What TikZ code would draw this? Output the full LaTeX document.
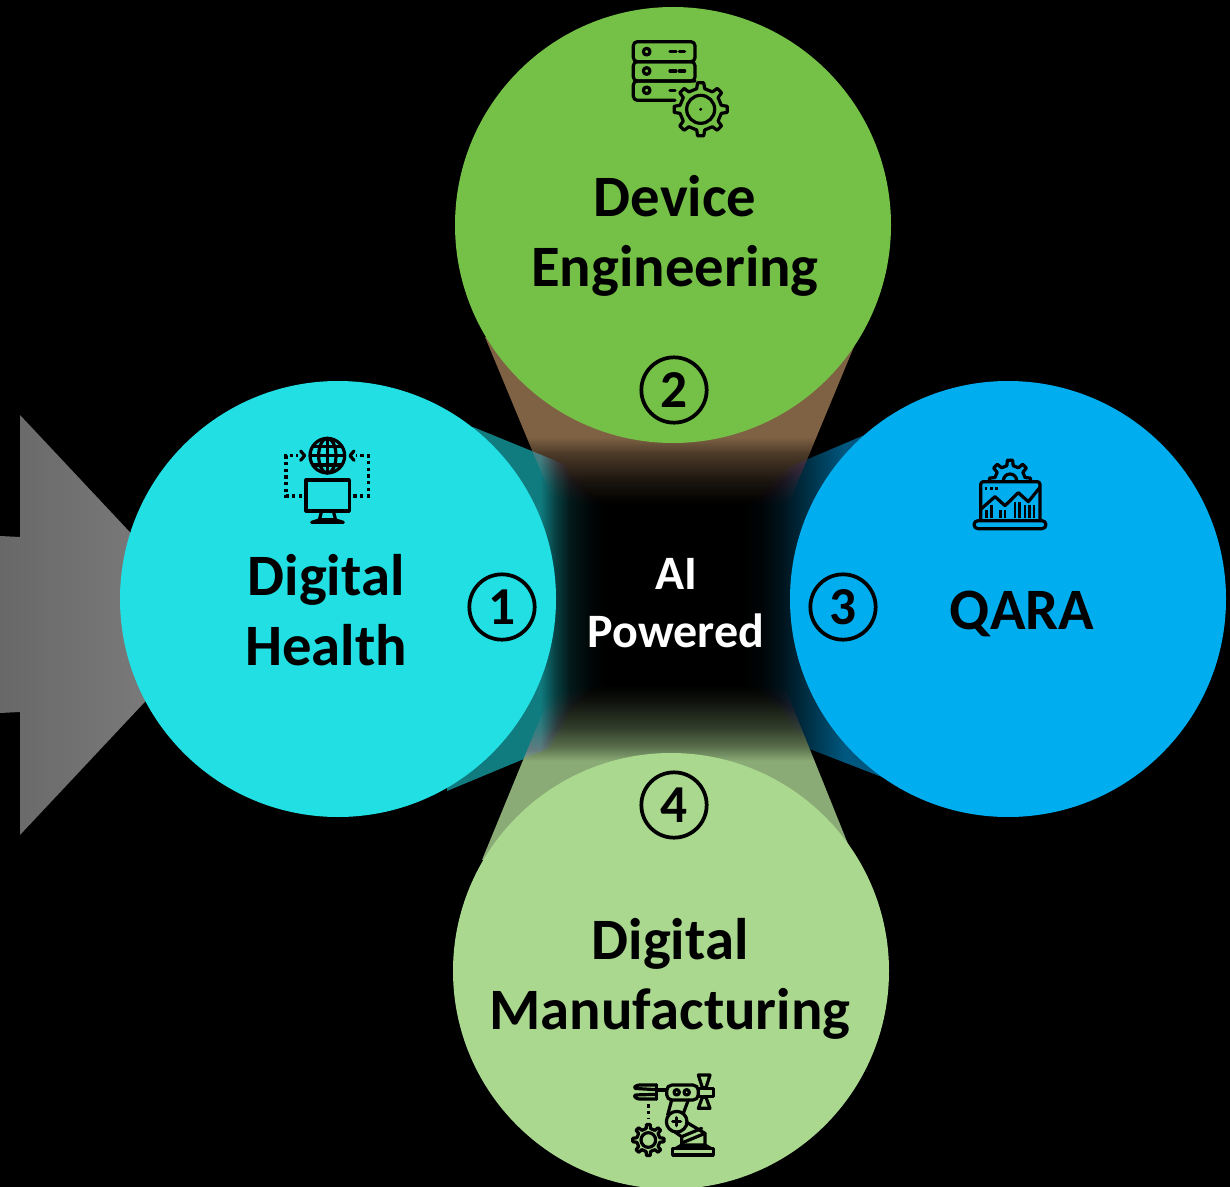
\documentclass[tikz,border=0pt]{standalone}
\usepackage{fontspec}
\setmainfont{Carlito}
\usetikzlibrary{calc}
\definecolor{cCyan}{RGB}{34,223,227}
\definecolor{cGreen}{RGB}{117,192,71}
\definecolor{cBlue}{RGB}{0,174,240}
\definecolor{cLight}{RGB}{170,216,143}
\definecolor{fBrown}{RGB}{127,98,68}
\definecolor{fTeal}{RGB}{16,124,128}
\definecolor{fNavy}{RGB}{0,88,128}
\definecolor{fOlive}{RGB}{138,171,118}
\definecolor{aDark}{RGB}{104,104,104}
\definecolor{aLight}{RGB}{130,130,130}
\colorlet{brownA}{fBrown!60!black}
\colorlet{brownB}{fBrown!20!black}
\colorlet{oliveA}{fOlive!65!black}
\colorlet{oliveB}{fOlive!35!black}
\colorlet{oliveC}{fOlive!10!black}
\colorlet{tealA}{fTeal!50!black}
\colorlet{tealB}{fTeal!20!black}
\colorlet{tealC}{fTeal!5!black}
\colorlet{navyA}{fNavy!5!black}
\colorlet{navyB}{fNavy!20!black}
\colorlet{navyC}{fNavy!45!black}
\colorlet{navyD}{fNavy!75!black}
\pgfdeclareverticalshading{fadeBrown}{100bp}{color(0bp)=(black); color(29.3bp)=(black); color(35.5bp)=(brownB); color(43.2bp)=(brownA); color(47.7bp)=(fBrown); color(100bp)=(fBrown)}
\pgfdeclareverticalshading{fadeOlive}{100bp}{color(0bp)=(fOlive); color(52.5bp)=(fOlive); color(56.4bp)=(oliveA); color(61.9bp)=(oliveB); color(69.4bp)=(oliveC); color(73.6bp)=(black); color(100bp)=(black)}
\pgfdeclarehorizontalshading{fadeTeal}{100bp}{color(0bp)=(fTeal); color(52.7bp)=(fTeal); color(57.4bp)=(tealA); color(61.6bp)=(tealB); color(67.6bp)=(tealC); color(72bp)=(black); color(100bp)=(black)}
\pgfdeclarehorizontalshading{fadeNavy}{100bp}{color(0bp)=(black); color(28.3bp)=(black); color(33.2bp)=(navyA); color(39.8bp)=(navyB); color(46.4bp)=(navyC); color(54.6bp)=(navyD); color(61.2bp)=(fNavy); color(100bp)=(fNavy)}
\tikzset{
  bigcirc/.style={circle,minimum size=327pt,inner sep=0pt,draw=none},
  numcirc/.style={circle,draw=black,line width=2.8pt,minimum size=49pt,inner sep=0pt,font=\fontsize{40}{40}\selectfont\bfseries},
  label/.style={text=black,align=center,font=\fontsize{44}{52.5}\selectfont\bfseries},
  funnel/.style={blend mode=lighten},
  icon/.style={draw=black,line width=2.4pt,line join=round,line cap=round,fill=none},
  thin icon/.style={draw=black,line width=2.1pt,line join=round,line cap=butt,fill=none},
  dots/.style={draw=black,line width=2.4pt,dash pattern=on 2.4pt off 2.6pt}
}
\newcommand{\gearic}[7]{% cx cy rin rout teeth halfangle tipfactor
  \begin{scope}[shift={(#1,#2)}]
  \foreach \i in {1,...,#5}{
    \pgfmathsetmacro\ga{360/#5*\i}
    \pgfmathsetmacro\gb{\ga-#6}
    \pgfmathsetmacro\gc{\ga-#6*#7}
    \pgfmathsetmacro\gd{\ga+#6*#7}
    \pgfmathsetmacro\ge{\ga+#6}
    \pgfmathsetmacro\gf{\ga+360/#5-#6}
    \draw[icon] (\gb:#3) -- (\gc:#4) -- (\gd:#4) -- (\ge:#3) -- (\gf:#3);
  }
  \end{scope}
}
\begin{document}
\begin{tikzpicture}[x=0.75pt,y=-0.75pt]
\useasboundingbox (0,0) rectangle (1230,1187);
\fill[black] (0,0) rectangle (1230,1187);
% grey arrow
\shade[left color=aDark,right color=aLight] (0,536) -- (20,537) -- (20,415) -- (217,625) -- (20,835) -- (20,712) -- (0,713) -- cycle;
% funnels
\path[funnel,shading=fadeBrown] (485,337) -- (858,337) -- (782,520) -- (561,520) -- cycle;
\path[funnel,shading=fadeTeal] (473,427) -- (615,485) -- (615,721) -- (447,791) -- cycle;
\path[funnel,shading=fadeNavy] (867,434) -- (735,490) -- (735,720) -- (887,779) -- cycle;
\path[funnel,shading=fadeOlive] (482,860) -- (556,680) -- (782,680) -- (848,844) -- cycle;
% main circles
\node[bigcirc,fill=cCyan] (health) at (338,599) {};
\node[bigcirc,fill=cGreen] (device) at (673,225) {};
\node[bigcirc,fill=cBlue] (qara) at (1008,599) {};
\node[bigcirc,fill=cLight] (manuf) at (671,971) {};
% numbers
\node[numcirc] (n1) at (502,607) {1};
\node[numcirc] (n2) at (674,390) {2};
\node[numcirc] (n3) at (843,607) {3};
\node[numcirc] (n4) at (674,805) {4};
% labels
\node[label] (tdevice) at (675,236) {Device\\Engineering};
\node[label] (thealth) at (326,610) {Digital\\Health};
\node[label] (tqara) at (1022,614) {QARA};
\node[label] (tmanuf) at (670,979) {Digital\\Manufacturing};
\node[align=center,text=white,font=\fontsize{36}{43.5}\selectfont\bfseries] (tai) at (676,603) {AI\\Powered};
% server icon
\begin{scope}[shift={(610,20)},x=0.25pt,y=-0.25pt]
  \draw[icon,rounded corners=3pt] (70,65) rectangle (255,125);
  \draw[icon,rounded corners=3pt] (70,125) rectangle (255,183);
  \draw[icon,rounded corners=3pt] (195,241) -- (70,241) -- (70,183) -- (255,183);
  \foreach \yy in {95,153,211}{
    \draw[icon] (110,\yy) circle (10);
  }
  \foreach \yy in {95,153}{
    \draw[icon] (180,\yy) -- (198,\yy);
    \draw[icon] (208,\yy) -- (224,\yy);
  }
  \draw[icon] (180,211) -- (195,211);
  \gearic{272}{268}{63}{80}{8}{11}{0.6}
  \draw[icon] (272,268) circle (42);
  \fill[black] (272,268) circle (5);
\end{scope}
% globe / monitor icon
\begin{scope}[shift={(270,425)},x=0.25pt,y=-0.25pt]
  \draw[icon] (172,92) circle (52);
  \draw[icon] (172,92) ellipse (26 and 52);
  \draw[icon] (172,40) -- (172,144);
  \draw[icon] (122,92) -- (222,92);
  \draw[icon] (130,64) -- (214,64);
  \draw[icon] (130,120) -- (214,120);
  \draw[icon] (108,165) rectangle (238,258);
  \draw[icon] (155,258) -- (148,285) -- (125,292) -- (220,292) -- (197,285) -- (190,258);
  \draw[icon] (148,285) -- (197,285);
  \draw[dots] (96,213) -- (48,213) -- (48,92) -- (85,92);
  \draw[dots] (250,213) -- (295,213) -- (295,92) -- (258,92);
  \draw[icon] (92,78) -- (104,92) -- (92,106);
  \draw[icon] (252,78) -- (240,92) -- (252,106);
\end{scope}
% laptop icon
\begin{scope}[shift={(960,450)},x=0.25pt,y=-0.25pt]
  \begin{scope}
    \clip (60,0) rectangle (240,95);
    \gearic{150}{92}{46}{62}{8}{12}{0.6}
    \draw[icon] (150,92) circle (20);
  \end{scope}
  \draw[icon,rounded corners=2pt] (62,212) -- (62,95) -- (240,95) -- (240,212);
  \draw[icon,rounded corners=3pt] (42,212) rectangle (258,236);
  \foreach \xx in {78,94,110}{\fill[black] (\xx-4,111) rectangle (\xx+4,119);}
  \draw[icon] (62,178) -- (105,140) -- (135,167) -- (175,128) -- (205,155) -- (240,112);
  \foreach \xx/\tt in {80/180,95/165,122/180,135/180,165/155,178/155,195/165,208/165,222/165}{
    \draw[thin icon] (\xx,205) -- (\xx,\tt);
  }
\end{scope}
% robot icon
\begin{scope}[shift={(620,1065)},x=0.25pt,y=-0.25pt]
  \draw[icon,rounded corners=2pt] (110,60) -- (50,60) -- (40,70) -- (110,74);
  \draw[icon,rounded corners=2pt] (110,88) -- (40,90) -- (50,102) -- (110,102);
  \draw[icon] (110,60) -- (110,102);
  \draw[icon] (110,75) -- (140,75);
  \draw[icon,rounded corners=4pt] (140,60) rectangle (235,105);
  \draw[icon] (170,82) circle (8);
  \draw[icon] (200,82) circle (8);
  \draw[icon] (235,70) -- (280,70) -- (280,95) -- (235,95);
  \draw[icon] (235,30) -- (270,30) -- (258,68) -- (247,68) -- cycle;
  \draw[icon] (247,97) -- (258,97) -- (270,130) -- (235,130) -- cycle;
  \draw[dots] (85,118) -- (85,160);
  \gearic{85}{225}{35}{47}{8}{11}{0.6}
  \draw[icon] (85,225) circle (22);
  \draw[icon] (155,105) -- (143,150);
  \draw[icon] (205,105) -- (190,145);
  \draw[icon] (170,170) circle (31);
  \draw[icon] (158,170) -- (182,170);
  \draw[icon] (170,158) -- (170,182);
  \draw[icon] (200,172) -- (255,205) -- (255,240);
  \draw[icon] (165,201) -- (185,215) -- (185,240);
  \draw[icon] (185,215) -- (245,190);
  \draw[icon] (190,232) -- (255,205);
  \draw[icon] (185,240) -- (255,240) -- (272,250) -- (168,250) -- cycle;
  \draw[icon] (158,250) rectangle (280,270);
\end{scope}
\end{tikzpicture}
\end{document}
